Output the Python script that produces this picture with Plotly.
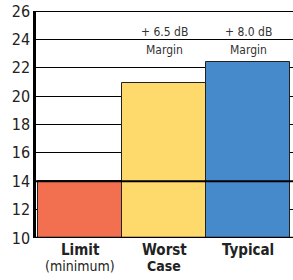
import plotly.graph_objects as go

categories = ["Limit", "Worst Case", "Typical"]
cat_line1 = ["<b>Limit</b>", "<b>Worst</b>", "<b>Typical</b>"]
cat_line2 = ["(minimum)", "<b>Case</b>", ""]
values = [14, 20.9, 22.4]
colors = ["#F26F50", "#FED96C", "#468ACB"]
margin_line1 = ["", "+ 6.5 dB", "+ 8.0 dB"]
margin_line2 = ["", "Margin", "Margin"]
y_ticks = [10, 12, 14, 16, 18, 20, 22, 24, 26]
limit_value = 14

FONT = "DejaVu Sans Condensed, Liberation Sans Narrow, sans-serif"

xs = list(range(len(categories)))
fig = go.Figure()
fig.add_trace(go.Bar(
    x=xs, y=[v - 10 for v in values], base=10, width=1,
    marker=dict(color=colors, line=dict(color="#222222", width=1)),
    hoverinfo="skip",
))

for x, l1, l2 in zip(xs, margin_line1, margin_line2):
    if l1:
        fig.add_annotation(x=x, y=24, text=l1, showarrow=False, yanchor="middle", yshift=7,
                           font=dict(family=FONT, size=12, color="#333333"))
        fig.add_annotation(x=x, y=24, text=l2, showarrow=False, yanchor="middle", yshift=-11,
                           font=dict(family=FONT, size=12, color="#333333"))

for x, l1, l2 in zip(xs, cat_line1, cat_line2):
    fig.add_annotation(x=x, xref="x", y=0, yref="paper", text=l1, showarrow=False,
                       yanchor="middle", yshift=-12,
                       font=dict(family=FONT, size=15, color="#222222"))
    if l2:
        fig.add_annotation(x=x, xref="x", y=0, yref="paper", text=l2, showarrow=False,
                           yanchor="middle", yshift=-28,
                           font=dict(family=FONT, size=14, color="#222222"))

fig.add_shape(type="line", xref="paper", x0=0, x1=1, yref="y", y0=limit_value, y1=limit_value,
              line=dict(color="black", width=2), layer="above")
fig.add_shape(type="line", xref="paper", x0=0, x1=1, yref="y", y0=26, y1=26,
              line=dict(color="black", width=2), layer="above")
fig.add_shape(type="line", xref="paper", x0=0, x1=1, yref="y", y0=10, y1=10,
              line=dict(color="black", width=2.5), layer="above")

fig.update_layout(
    width=293, height=280,
    margin=dict(l=36, r=0, t=11, b=42, autoexpand=False),
    paper_bgcolor="white", plot_bgcolor="white",
    showlegend=False, bargap=0,
    xaxis=dict(range=[-0.525, 2.535], showticklabels=False, automargin=False,
               showgrid=False, zeroline=False, showline=False, ticks=""),
    yaxis=dict(range=[10, 26], tickvals=y_ticks, showgrid=True, gridcolor="black",
               gridwidth=1, zeroline=False, showline=True, linecolor="black",
               linewidth=2.5, ticks="", automargin=False,
               tickfont=dict(family=FONT, size=16, color="#222222")),
)

fig.write_html("out.html", config={"displayModeBar": False},
               post_script="document.body.style.margin='0';document.body.style.overflow='hidden';")
